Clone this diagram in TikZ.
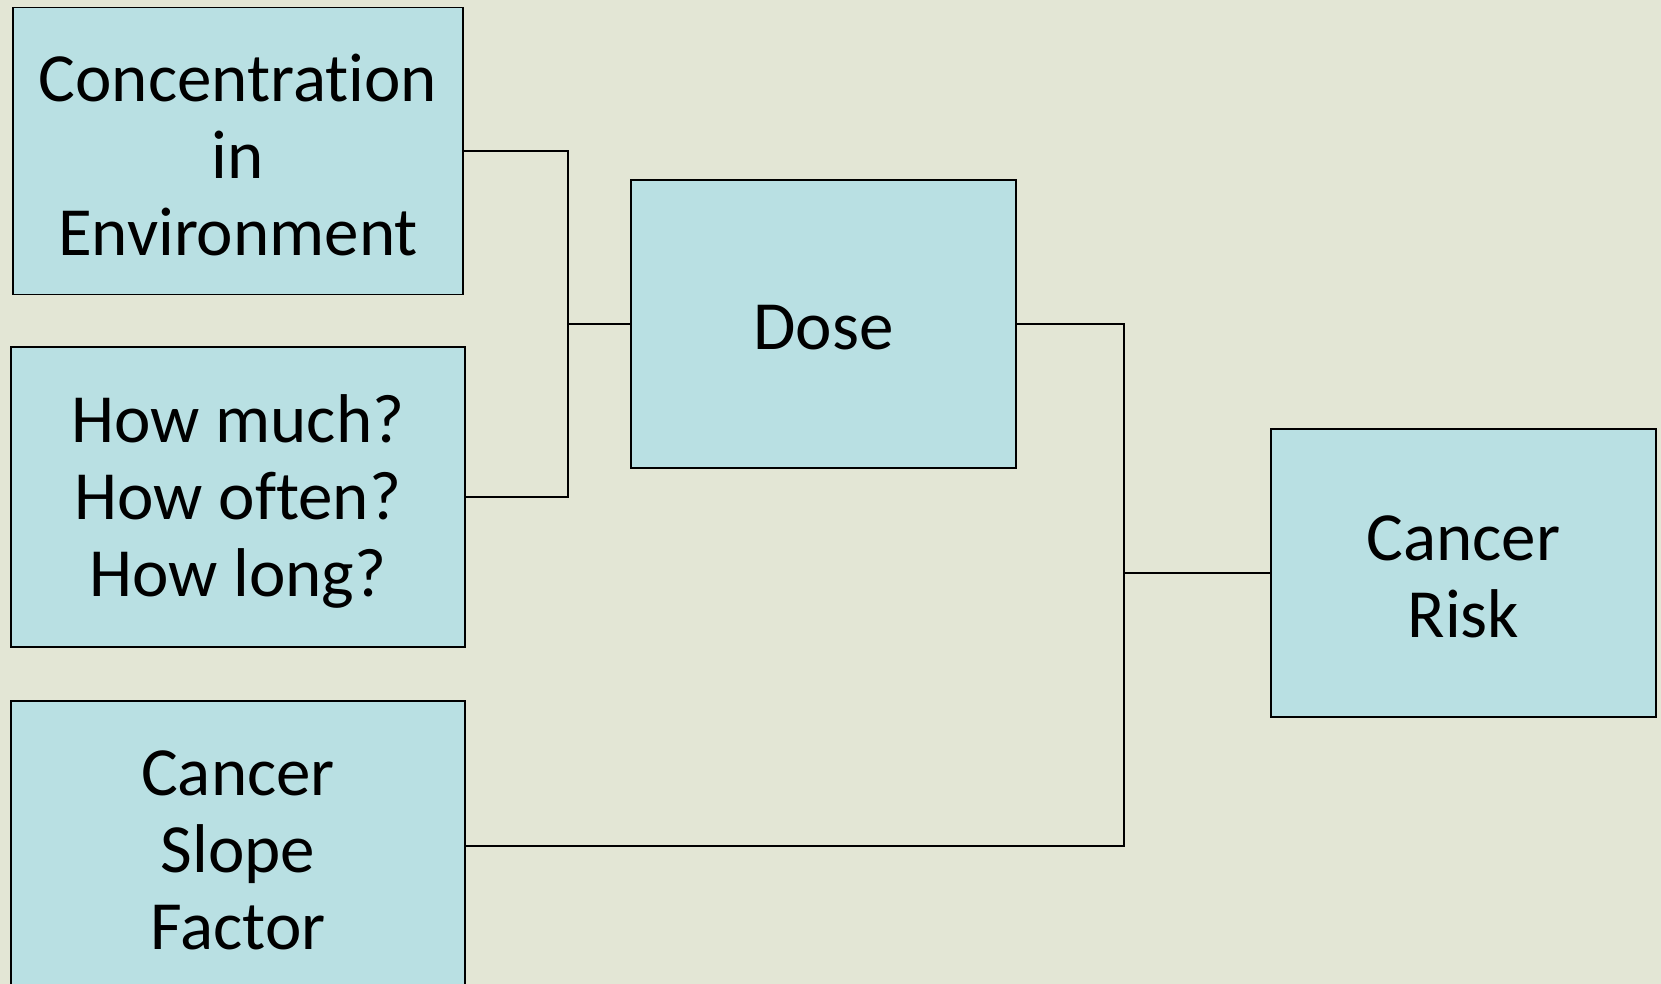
\documentclass[tikz,border=0pt]{standalone}
\usepackage{fontspec}
\setmainfont[Ligatures=NoCommon]{Carlito}
\definecolor{bgc}{RGB}{227,230,213}
\definecolor{boxc}{RGB}{185,224,227}
\begin{document}
\begin{tikzpicture}[x=1pt,y=-1pt,
  box/.style={draw=black,line width=1.6pt,fill=boxc,inner sep=0pt},
  txt/.style={inner sep=0pt,align=center,font=\fontsize{69}{77}\selectfont,yshift=-4pt},
  conn/.style={draw=black,line width=1.4pt}]
\fill[bgc] (0,0) rectangle (1661,984);
\useasboundingbox (0,0) rectangle (1661,984);
\node[box,minimum width=450pt,minimum height=287pt] (c1) at (238,151) {};
\node[box,minimum width=454pt,minimum height=300pt] (c2) at (238,497) {};
\node[box,minimum width=454pt,minimum height=290pt] (c3) at (238,846) {};
\node[box,minimum width=385pt,minimum height=288pt] (dose) at (823.5,324) {};
\node[box,minimum width=385pt,minimum height=288pt] (risk) at (1463.5,573) {};
\node[txt] (c1t) at (c1.center) {Concentration\\in\\Environment};
\node[txt] (c2t) at (c2.center) {How much?\\How often?\\How long?};
\node[txt] (c3t) at (c3.center) {Cancer\\Slope\\Factor};
\node[txt] (doset) at (dose.center) {Dose};
\node[txt] (riskt) at (risk.center) {Cancer\\Risk};
\coordinate (j1) at (568,324);
\coordinate (j2) at (1124,573);
\draw[conn] (c1.east) -| (j1) |- (c2.east);
\draw[conn] (j1) -- (dose.west);
\draw[conn] (dose.east) -| (j2) |- (c3.east);
\draw[conn] (j2) -- (risk.west);
\end{tikzpicture}
\end{document}
